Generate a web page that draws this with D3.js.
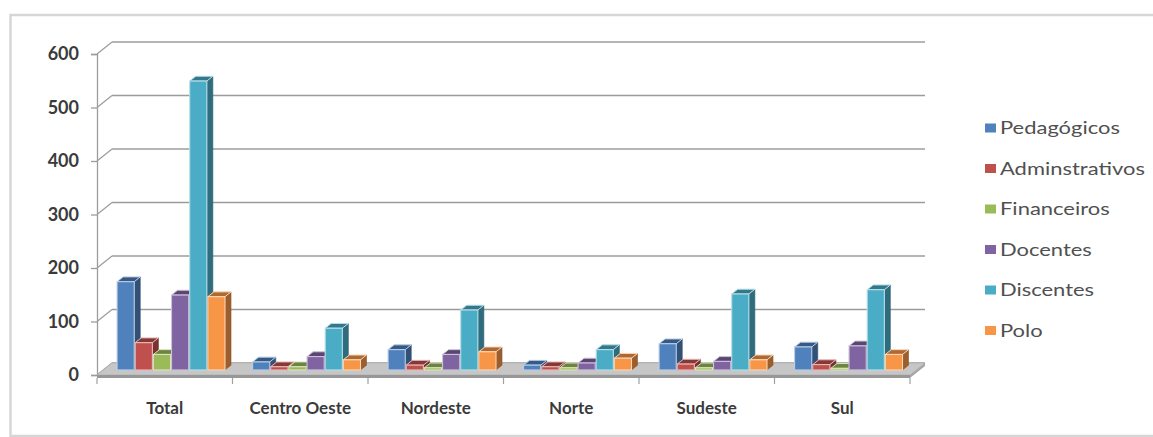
<!DOCTYPE html>
<html>
<head>
<meta charset="utf-8">
<script src="https://cdn.jsdelivr.net/npm/d3@7/dist/d3.min.js"></script>
<style>
  html, body { margin: 0; padding: 0; background: #ffffff; }
  svg { display: block; }
</style>
</head>
<body>
<svg id="chart" width="1153" height="437"></svg>
<script>
// Categories (regions) and the value of each series per region
const categories = ["Total", "Centro Oeste", "Nordeste", "Norte", "Sudeste", "Sul"];
const seriesNames = ["Pedagógicos", "Adminstrativos", "Financeiros", "Docentes", "Discentes", "Polo"];
const seriesColors = ["#4F81BD", "#C0504D", "#9BBB59", "#8064A2", "#4BACC6", "#F79646"];

const pedagogicos    = [165, 15, 38,  9,  49,  43];
const adminstrativos = [ 51,  6,  9,  6,  11,  10];
const financeiros    = [ 29,  6,  4,  4,   4,   3];
const docentes       = [140, 25, 29, 13,  16,  45];
const discentes      = [540, 78, 112, 38, 142, 150];
const polo           = [137, 19, 34, 22,  19,  29];

const yTicks = [0, 100, 200, 300, 400, 500, 600];

const seriesValues = [pedagogicos, adminstrativos, financeiros, docentes, discentes, polo];

const svg = d3.select("#chart");

// Outer chart frame
svg.append("rect")
  .attr("x", 10.5).attr("y", 15).attr("width", 1160).attr("height", 421)
  .attr("fill", "none").attr("stroke", "#d6d6d6").attr("stroke-width", 2.5);

// Plot geometry: front plane plus an oblique depth vector for the 3D look
const left = 97, right = 910;
const depthX = 15, depthY = -12;

const x = d3.scaleBand().domain(categories).range([left, right]).paddingInner(0).paddingOuter(0);
const xs = d3.scaleBand().domain(seriesNames).range([0, x.bandwidth()])
  .paddingInner(0.055).paddingOuter(0.76);
const y = d3.scaleLinear().domain([0, 600]).range([375, 54]);

const gridColor = "#9c9c9c";

// Back wall gridlines and the diagonal connectors on the side wall
const grid = svg.append("g");
grid.selectAll("line.back").data(yTicks).join("line")
  .attr("class", "back")
  .attr("x1", left + depthX).attr("x2", right + depthX)
  .attr("y1", d => y(d) + depthY).attr("y2", d => y(d) + depthY)
  .attr("stroke", gridColor).attr("stroke-width", 1.6);
grid.selectAll("line.side").data(yTicks).join("line")
  .attr("class", "side")
  .attr("x1", left).attr("x2", left + depthX)
  .attr("y1", d => y(d)).attr("y2", d => y(d) + depthY)
  .attr("stroke", gridColor).attr("stroke-width", 1.3);

// Value axis
const yAxis = d3.axisLeft(y).tickValues(yTicks).tickSize(6).tickPadding(12);
const gy = svg.append("g").attr("transform", `translate(${left},0)`).call(yAxis);
gy.select(".domain").attr("stroke", gridColor).attr("stroke-width", 1.3);
gy.selectAll(".tick line").attr("stroke", gridColor).attr("stroke-width", 1.3);
gy.selectAll(".tick text")
  .attr("fill", "#3a3a3a")
  .style("font-family", "Lato, 'Open Sans', sans-serif")
  .style("font-weight", "bold")
  .style("font-size", "18px");

// Floor
const fy = y(0);
const floor = svg.append("g");
floor.append("polygon")
  .attr("points", [[left, fy], [right, fy], [right + depthX, fy + depthY], [left + depthX, fy + depthY]].join(" "))
  .attr("fill", "#c6c6c6").attr("stroke", "#b0b0b0").attr("stroke-width", 0.8);
floor.append("polygon")
  .attr("points", [[left, fy], [right, fy], [right, fy + 3], [left, fy + 3]].join(" "))
  .attr("fill", "#979797");
floor.append("polygon")
  .attr("points", [[right, fy], [right + depthX, fy + depthY], [right + depthX, fy + depthY + 3], [right, fy + 3]].join(" "))
  .attr("fill", "#a6a6a6");

// Category separator ticks under the floor
const bounds = categories.map(c => x(c)).concat([right]);
svg.append("g").selectAll("line").data(bounds).join("line")
  .attr("x1", d => d).attr("x2", d => d)
  .attr("y1", fy + 3).attr("y2", fy + 9)
  .attr("stroke", "#a0a0a0").attr("stroke-width", 1.2);

// Category labels
svg.append("g").selectAll("text").data(categories).join("text")
  .attr("x", d => x(d) + x.bandwidth() / 2)
  .attr("y", 414)
  .attr("text-anchor", "middle")
  .attr("fill", "#3a3a3a")
  .style("font-family", "Lato, 'Open Sans', sans-serif")
  .style("font-weight", "bold")
  .style("font-size", "17px")
  .text(d => d);

// 3D columns: front face at depth d0, back face at d1 (fractions of the floor depth)
const d0 = 0.42, d1 = 0.82;
const bx = depthX * (d1 - d0), by = depthY * (d1 - d0);
const bars = [];
categories.forEach((c, ci) => {
  seriesNames.forEach((s, si) => {
    bars.push({ cat: c, series: s, color: seriesColors[si], value: seriesValues[si][ci] });
  });
});

const barG = svg.append("g");
bars.forEach(b => {
  const x0 = x(b.cat) + xs(b.series) + depthX * d0;
  const w = xs.bandwidth();
  const yb = y(0) + depthY * d0;
  const yt = y(b.value) + depthY * d0;
  const base = d3.color(b.color);
  const edge = d3.interpolateRgb(b.color, "#ffffff")(0.6);
  const g = barG.append("g");
  g.append("polygon")
    .attr("points", [[x0 + w, yb], [x0 + w + bx, yb + by], [x0 + w + bx, yt + by], [x0 + w, yt]].join(" "))
    .attr("fill", base.darker(1.3)).attr("stroke", base.darker(1.6)).attr("stroke-width", 0.6);
  g.append("polygon")
    .attr("points", [[x0, yt], [x0 + bx, yt + by], [x0 + w + bx, yt + by], [x0 + w, yt]].join(" "))
    .attr("fill", base.darker(1.0)).attr("stroke", edge).attr("stroke-width", 1);
  g.append("rect")
    .attr("x", x0).attr("y", yt).attr("width", w).attr("height", yb - yt)
    .attr("fill", b.color).attr("stroke", edge).attr("stroke-width", 1.1);
});

// Legend
const legendRows = [128, 168.5, 209, 249.5, 290, 330.5];
const legend = svg.append("g");
seriesNames.forEach((s, i) => {
  const g = legend.append("g").attr("transform", `translate(985,${legendRows[i]})`);
  g.append("rect").attr("x", 0).attr("y", -4.5).attr("width", 11).attr("height", 9)
    .attr("fill", seriesColors[i]);
  g.append("text")
    .attr("transform", "translate(15,0) scale(1.22,1)")
    .attr("dy", "0.35em")
    .attr("fill", "#505050")
    .style("font-family", "Lato, 'Open Sans', sans-serif")
    .style("font-size", "18px")
    .text(s);
});
</script>
</body>
</html>
